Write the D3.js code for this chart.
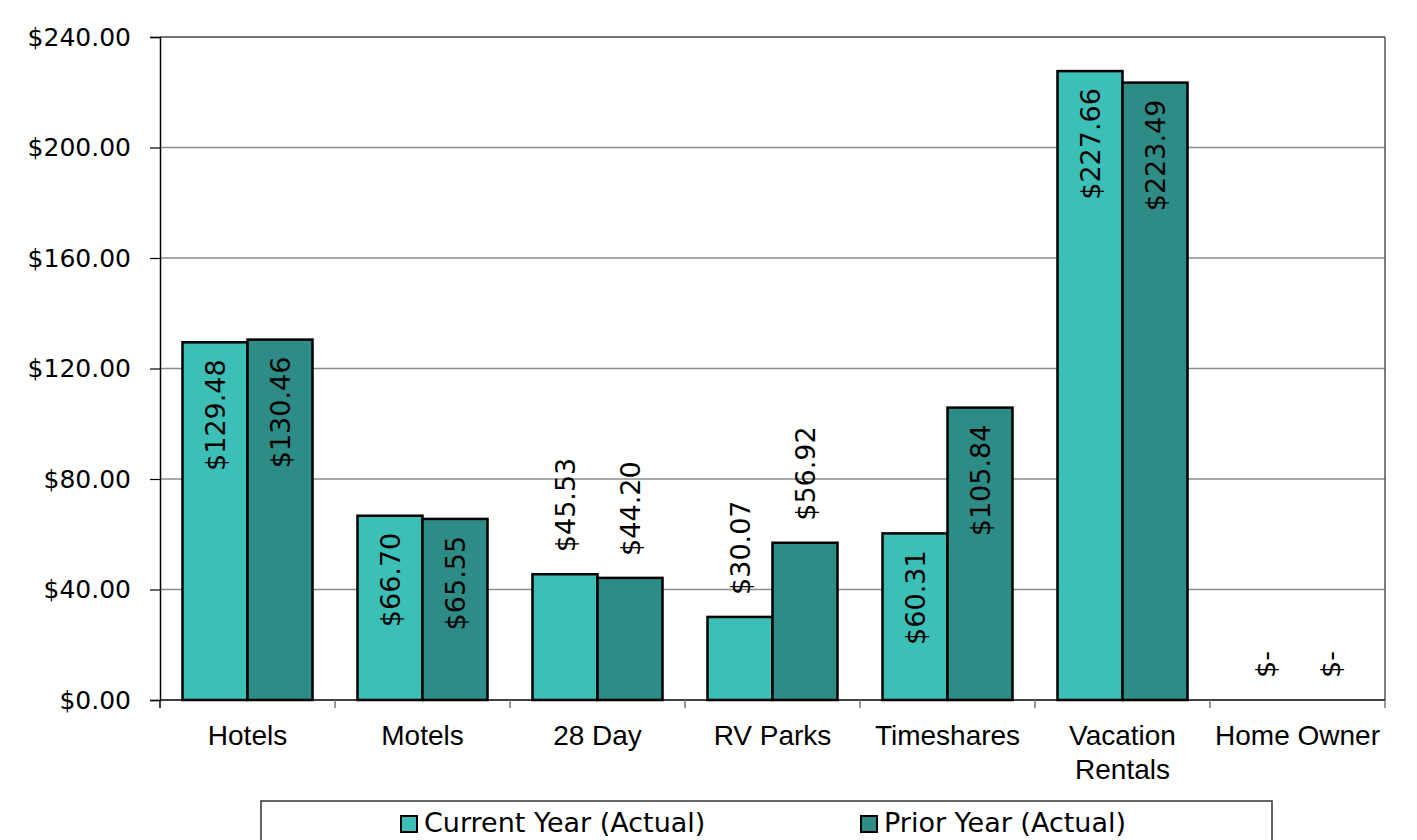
<!DOCTYPE html>
<html>
<head>
<meta charset="utf-8">
<script src="https://cdn.jsdelivr.net/npm/d3@7"></script>
<style>
  html, body { margin: 0; padding: 0; background: #fff; }
  svg { display: block; }
</style>
</head>
<body>
<svg id="chart" width="1417" height="840"></svg>
<script>
const categories = ["Hotels", "Motels", "28 Day", "RV Parks", "Timeshares", "Vacation Rentals", "Home Owner"];
const seriesNames = ["Current Year (Actual)", "Prior Year (Actual)"];
const currentYear = [129.48, 66.70, 45.53, 30.07, 60.31, 227.66, 0];
const priorYear = [130.46, 65.55, 44.20, 56.92, 105.84, 223.49, 0];
const yTicks = [0, 40, 80, 120, 160, 200, 240];

const colors = ["#3cbfb7", "#2e8c86"];
const series = [currentYear, priorYear];

const svg = d3.select("#chart");
const m = { left: 160, right: 1385, top: 37, bottom: 700 };

const x0 = d3.scaleBand().domain(categories).range([m.left, m.right]).paddingInner(0.257).paddingOuter(0.1285);
const x1 = d3.scaleBand().domain(d3.range(series.length)).range([0, x0.bandwidth()]);
const y = d3.scaleLinear().domain([0, 240]).range([m.bottom, m.top]);

// gridlines
svg.append("g").selectAll("line").data(yTicks.filter(t => t > 0)).join("line")
  .attr("x1", m.left).attr("x2", m.right)
  .attr("y1", d => y(d)).attr("y2", d => y(d))
  .attr("stroke", d => d === 240 ? "#444" : "#8c8c8c").attr("stroke-width", 1.5);

// right border
svg.append("line").attr("x1", m.right).attr("x2", m.right).attr("y1", m.top).attr("y2", m.bottom)
  .attr("stroke", "#555").attr("stroke-width", 1.5);

// y axis
const yAxis = d3.axisLeft(y).tickValues(yTicks).tickSize(10).tickPadding(19)
  .tickFormat(d => "$" + d3.format(".2f")(d));
const ga = svg.append("g").attr("transform", `translate(${m.left},0)`).call(yAxis);
ga.select(".domain").attr("stroke", "#000").attr("stroke-width", 1.5);
ga.selectAll(".tick line").attr("stroke", "#000").attr("stroke-width", 1.2);
ga.selectAll(".tick text").attr("font-family", "DejaVu Sans, Tahoma, sans-serif").attr("font-size", 25).attr("fill", "#000");

// bars
const groups = svg.append("g").selectAll("g").data(categories).join("g")
  .attr("transform", d => `translate(${x0(d)},0)`);
groups.selectAll("rect").data((d, i) => series.map((s, k) => ({ k, v: s[i] }))).join("rect")
  .attr("x", d => x1(d.k)).attr("width", x1.bandwidth())
  .attr("y", d => y(d.v)).attr("height", d => y(0) - y(d.v))
  .attr("fill", d => colors[d.k])
  .attr("stroke", d => d.v > 0 ? "#000" : "none").attr("stroke-width", 2.5);

// x axis
svg.append("line").attr("x1", m.left).attr("x2", m.right).attr("y1", m.bottom).attr("y2", m.bottom)
  .attr("stroke", "#000").attr("stroke-width", 1.5);
const boundaries = categories.map(c => x0(c) - x0.step() * x0.paddingOuter()).concat([m.right]);
svg.append("g").selectAll("line").data(boundaries).join("line")
  .attr("x1", d => d).attr("x2", d => d).attr("y1", m.bottom).attr("y2", m.bottom + 8)
  .attr("stroke", (d, i) => i === 0 ? "#000" : "#777").attr("stroke-width", 1.5);

// category labels with wrap
const catG = svg.append("g");
categories.forEach(c => {
  const t = catG.append("text").attr("x", x0(c) + x0.bandwidth() / 2).attr("y", 745)
    .attr("text-anchor", "middle").attr("font-family", "Liberation Sans, Arial, sans-serif")
    .attr("font-size", 28).attr("fill", "#000").text(c);
  if (t.node().getComputedTextLength() > x0.step()) {
    const words = c.split(" ");
    t.text(null);
    words.forEach((w, i) => t.append("tspan").attr("x", x0(c) + x0.bandwidth() / 2).attr("dy", i === 0 ? 0 : 34).text(w));
  }
});

// data labels
const fmt = v => v === 0 ? "$-" : "$" + d3.format(",.2f")(v);
groups.selectAll("text").data((d, i) => series.map((s, k) => ({ k, v: s[i] }))).join("text")
  .attr("transform", d => {
    const cx = x1(d.k) + x1.bandwidth() / 2;
    const inside = d.v > 58;
    const yy = inside ? y(d.v) + 17 : y(d.v) - 22;
    return `translate(${cx},${yy}) rotate(-90)`;
  })
  .attr("text-anchor", d => d.v > 58 ? "end" : "start")
  .attr("dy", "0.36em")
  .attr("font-family", "DejaVu Sans, Tahoma, sans-serif").attr("font-size", 27).attr("fill", "#000")
  .text(d => fmt(d.v));

// legend
const lg = svg.append("g");
lg.append("rect").attr("x", 261).attr("y", 801).attr("width", 1011).attr("height", 70)
  .attr("fill", "#fff").attr("stroke", "#333").attr("stroke-width", 1.5);
const legendX = [401, 861];
seriesNames.forEach((n, k) => {
  lg.append("rect").attr("x", legendX[k]).attr("y", 816).attr("width", 16).attr("height", 16)
    .attr("fill", colors[k]).attr("stroke", "#000").attr("stroke-width", 2);
  lg.append("text").attr("x", legendX[k] + 23).attr("y", 832)
    .attr("font-family", "DejaVu Sans, Tahoma, sans-serif").attr("font-size", 27).attr("fill", "#000").text(n);
});
</script>
</body>
</html>
